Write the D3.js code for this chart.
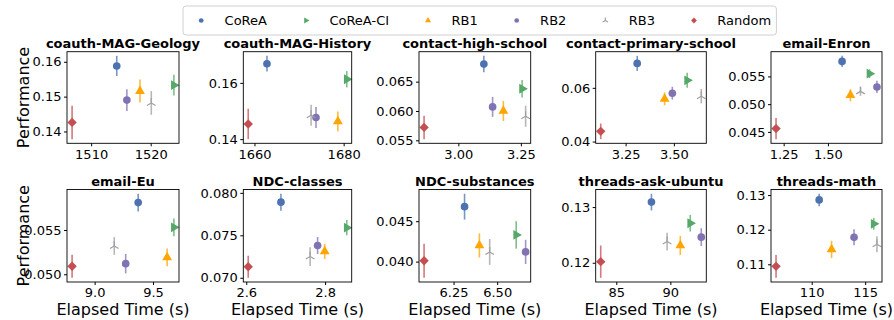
<!DOCTYPE html>
<html>
<head>
<meta charset="utf-8">
<script src="https://cdn.jsdelivr.net/npm/d3@7"></script>
<style>
  body { margin: 0; background: #fff; }
  svg { display: block; font-family: 'DejaVu Sans', sans-serif; }
</style>
</head>
<body>
<svg id="chart" width="894" height="320"></svg>
<script>
// --- data ---
const datasets = ["coauth-MAG-Geology", "coauth-MAG-History", "contact-high-school", "contact-primary-school", "email-Enron",
                  "email-Eu", "NDC-classes", "NDC-substances", "threads-ask-ubuntu", "threads-math"];
const methods = ["CoReA", "CoReA-CI", "RB1", "RB2", "RB3", "Random"];

// elapsed time (s), one row per dataset, columns follow `methods`
const elapsed = [
  [1514.3, 1523.9, 1518.2, 1516.0, 1520.1, 1506.8],
  [1662.8, 1680.7, 1678.7, 1673.8, 1672.7, 1658.6],
  [3.102, 3.255, 3.180, 3.137, 3.269, 2.863],
  [3.310, 3.569, 3.452, 3.492, 3.642, 3.121],
  [1.580, 1.735, 1.627, 1.777, 1.684, 1.207],
  [9.373, 9.679, 9.621, 9.266, 9.168, 8.807],
  [2.688, 2.855, 2.799, 2.781, 2.762, 2.605],
  [6.313, 6.609, 6.398, 6.663, 6.457, 6.081],
  [88.25, 91.84, 90.92, 92.86, 89.70, 83.56],
  [110.7, 115.8, 111.86, 113.96, 116.1, 106.67]
];
const perf = [
  [0.1588, 0.1533, 0.1516, 0.1490, 0.1482, 0.1426],
  [0.1668, 0.1613, 0.1463, 0.1477, 0.1485, 0.1454],
  [0.0680, 0.0638, 0.0600, 0.0607, 0.0591, 0.0572],
  [0.0691, 0.0628, 0.0559, 0.0580, 0.0569, 0.0438],
  [0.0577, 0.0555, 0.0516, 0.0531, 0.0523, 0.0456],
  [0.0581, 0.0553, 0.0519, 0.0512, 0.0532, 0.0509],
  [0.0789, 0.0759, 0.0731, 0.0738, 0.0725, 0.0713],
  [0.0468, 0.0433, 0.0420, 0.0412, 0.0412, 0.0401],
  [0.1309, 0.1271, 0.1231, 0.1246, 0.1238, 0.1202],
  [0.1286, 0.1217, 0.1143, 0.1178, 0.1158, 0.1094]
];
const perfErr = [
  [0.0029, 0.0030, 0.0033, 0.0031, 0.0034, 0.0048],
  [0.0028, 0.0029, 0.0035, 0.0037, 0.0037, 0.0054],
  [0.0014, 0.0015, 0.0017, 0.0017, 0.0018, 0.0020],
  [0.0028, 0.0028, 0.0024, 0.0024, 0.0027, 0.0029],
  [0.0010, 0.0008, 0.0011, 0.0011, 0.0008, 0.0019],
  [0.0010, 0.0010, 0.0010, 0.0011, 0.0010, 0.0013],
  [0.0010, 0.0009, 0.0009, 0.0010, 0.0011, 0.0013],
  [0.0016, 0.0017, 0.0015, 0.0015, 0.0016, 0.0021],
  [0.0015, 0.0015, 0.0017, 0.0016, 0.0016, 0.0029],
  [0.0018, 0.0017, 0.0025, 0.0023, 0.0023, 0.0033]
];
const xTickLabels = [
  ["1510", "1520"], ["1660", "1680"], ["3.00", "3.25"], ["3.25", "3.50"], ["1.25", "1.50"],
  ["9.0", "9.5"], ["2.6", "2.8"], ["6.25", "6.50"], ["85", "90"], ["110", "115"]
];
const yTickLabels = [
  ["0.14", "0.15", "0.16"], ["0.14", "0.16"], ["0.055", "0.060", "0.065"], ["0.04", "0.06"], ["0.045", "0.050", "0.055"],
  ["0.050", "0.055"], ["0.070", "0.075", "0.080"], ["0.040", "0.045"], ["0.12", "0.13"], ["0.11", "0.12", "0.13"]
];

// --- styling / layout ---
const methodStyle = {
  "CoReA":    { color: "#4C72B0", shape: "circle" },
  "CoReA-CI": { color: "#55A868", shape: "triRight" },
  "RB1":      { color: "#FFA500", shape: "triUp" },
  "RB2":      { color: "#8172B3", shape: "circle" },
  "RB3":      { color: "#A0A0A0", shape: "tri2" },
  "Random":   { color: "#C44E52", shape: "diamond" }
};
const colLeft = [67, 243.3, 419, 595.7, 771];
const colRight = [179, 351.7, 530.7, 706.3, 882];
const rowTop = [51.7, 189.5];
const rowBottom = [143.3, 282];

const svg = d3.select("#chart");

function drawMarker(sel, shape, color, k) {
  if (shape === "circle") {
    sel.append("path").attr("d", d3.symbol(d3.symbolCircle, 46 * k * k)()).attr("fill", color);
  } else if (shape === "triUp") {
    sel.append("path").attr("d", d3.symbol(d3.symbolTriangle, 42 * k * k)()).attr("fill", color);
  } else if (shape === "triRight") {
    sel.append("path").attr("d", d3.symbol(d3.symbolTriangle, 42 * k * k)())
      .attr("transform", "rotate(90)").attr("fill", color);
  } else if (shape === "diamond") {
    sel.append("path").attr("d", d3.symbol(d3.symbolSquare, 44 * k * k)())
      .attr("transform", "rotate(45)").attr("fill", color);
  } else if (shape === "tri2") {
    const r = 5 * k, cx = r * Math.cos(Math.PI / 6), cy = r * Math.sin(Math.PI / 6);
    sel.append("path")
      .attr("d", `M0,0V${-r}M0,0L${-cx},${cy}M0,0L${cx},${cy}`)
      .attr("stroke", color).attr("stroke-width", 1.2).attr("fill", "none");
  }
}

datasets.forEach((name, i) => {
  const col = i % 5, row = Math.floor(i / 5);
  const x0 = colLeft[col], x1 = colRight[col], y0 = rowTop[row], y1 = rowBottom[row];

  // matplotlib-like 5% auto margins
  const [tMin, tMax] = d3.extent(elapsed[i]);
  const pMin = d3.min(perf[i], (p, j) => p - perfErr[i][j]);
  const pMax = d3.max(perf[i], (p, j) => p + perfErr[i][j]);
  const tPad = (tMax - tMin) * 0.05, pPad = (pMax - pMin) * 0.05;

  const x = d3.scaleLinear().domain([tMin - tPad, tMax + tPad]).range([x0, x1]);
  const y = d3.scaleLinear().domain([pMin - pPad, pMax + pPad]).range([y1, y0]);

  const g = svg.append("g");

  const xt = xTickLabels[i], yt = yTickLabels[i];
  const xAxis = g.append("g").attr("transform", `translate(0,${y1})`)
    .call(d3.axisBottom(x).tickValues(xt.map(Number)).tickFormat((d, k) => xt[k]).tickSize(3).tickPadding(3));
  const yAxis = g.append("g").attr("transform", `translate(${x0},0)`)
    .call(d3.axisLeft(y).tickValues(yt.map(Number)).tickFormat((d, k) => yt[k]).tickSize(3).tickPadding(2.5));
  [xAxis, yAxis].forEach(a => {
    a.select(".domain").remove();
    a.selectAll("text").attr("font-size", 13).attr("fill", "#000").attr("font-family", "DejaVu Sans");
    a.selectAll("line").attr("stroke", "#000");
  });

  methods.forEach((m, j) => {
    const st = methodStyle[m];
    const px = x(elapsed[i][j]), py = y(perf[i][j]);
    g.append("line")
      .attr("x1", px).attr("x2", px)
      .attr("y1", y(perf[i][j] - perfErr[i][j])).attr("y2", y(perf[i][j] + perfErr[i][j]))
      .attr("stroke", st.color).attr("stroke-width", 1.6).attr("opacity", 0.75);
    const mk = g.append("g").attr("transform", `translate(${px},${py})`);
    drawMarker(mk, st.shape, st.color, 1);
  });

  g.append("rect")
    .attr("x", x0).attr("y", y0).attr("width", x1 - x0).attr("height", y1 - y0)
    .attr("fill", "none").attr("stroke", "#000").attr("stroke-width", 0.9);

  g.append("text")
    .attr("x", (x0 + x1) / 2).attr("y", y0 - 3.5)
    .attr("text-anchor", "middle").attr("font-size", 13).attr("font-weight", "bold")
    .text(name);

  if (col === 0) {
    g.append("text")
      .attr("transform", `translate(28.5,${(y0 + y1) / 2}) rotate(-90)`)
      .attr("text-anchor", "middle").attr("font-size", 16)
      .text("Performance");
  }
  if (row === 1) {
    g.append("text")
      .attr("x", (x0 + x1) / 2).attr("y", 315)
      .attr("text-anchor", "middle").attr("font-size", 16)
      .text("Elapsed Time (s)");
  }
});

// legend, laid out like matplotlib (handlelength 2em, handletextpad .8em, columnspacing 2em)
const fs = 13, legLeft = 183, legTop = 6, legH = 29;
const leg = svg.append("g");
const frame = leg.append("rect")
  .attr("x", legLeft).attr("y", legTop).attr("height", legH).attr("rx", 3)
  .attr("fill", "#fff").attr("stroke", "#d0d0d0").attr("stroke-width", 1);
let cx = legLeft + 0.4 * fs;
const cy = legTop + legH / 2;
methods.forEach((m, j) => {
  const st = methodStyle[m];
  const mk = leg.append("g").attr("transform", `translate(${cx + fs},${cy})`);
  drawMarker(mk, st.shape, st.color, 0.62);
  const t = leg.append("text")
    .attr("x", cx + 2.8 * fs).attr("y", cy).attr("dy", "0.35em")
    .attr("font-size", fs).text(m);
  cx += 2.8 * fs + t.node().getComputedTextLength();
  if (j < methods.length - 1) cx += 2 * fs;
});
frame.attr("width", cx + 0.4 * fs - legLeft);
</script>
</body>
</html>
